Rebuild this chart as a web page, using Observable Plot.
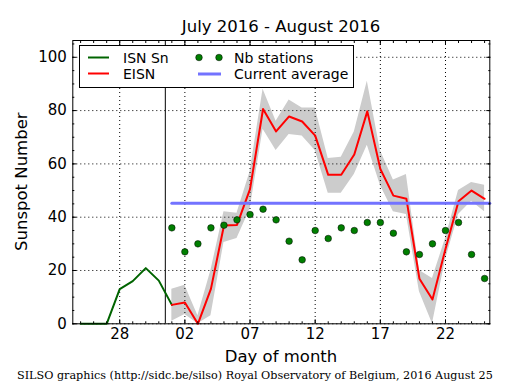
<!DOCTYPE html>
<html><head><meta charset="utf-8">
<script src="https://cdn.jsdelivr.net/npm/d3@7"></script>
<script src="https://cdn.jsdelivr.net/npm/@observablehq/plot@0.6"></script>
<style>
body{margin:0;background:#fff}
#wrap{position:relative;width:515px;height:390px}
#wrap svg{position:absolute;left:0;top:0}
</style>
</head><body><div id="wrap"></div>
<script>
// x = day number counted from July 1 (July d -> d, August d -> 31 + d)
const isnDays = [25, 26, 27, 28, 29, 30, 31, 32];
const isnValues = [0, 0, 0, 13, 16, 20.9, 16.2, 7.1];

const augDays = [1,2,3,4,5,6,7,8,9,10,11,12,13,14,15,16,17,18,19,20,21,22,23,24,25];
const eisnValues = [7.1, 8.0, 0, 13.1, 36.9, 37.1, 50.5, 80.6, 72.2, 77.8, 75.9, 70.6, 55.9, 55.9, 63.5, 79.7, 58.1, 48.1, 46.9, 16.9, 9.1, 28.1, 46.0, 50.0, 46.9];
const eisnUpper = [13, 14.5, 3, 20, 42, 41.5, 57, 88, 76, 84, 81, 81, 62, 62.5, 72, 91, 65, 54, 56, 20, 17, 32, 50, 53, 52];
const eisnLower = [1, 3.5, 0, 3, 30.5, 32, 43, 73, 65, 71, 70.5, 65, 49, 49, 56, 67, 52, 42, 41, 12, 0, 24, 41, 46, 42];
const nbStations = [36, 27, 30, 36, 37, 39, 41, 43, 39, 31, 24, 35, 32, 36, 35, 38, 38, 34, 27, 26, 30, 35, 38, 26, 17];

const currentAverage = 45.2;
const avgStartDay = 32;
const dividerDay = 31.5;

const xTickValues = [28, 33, 38, 43, 48, 53];
const xTickLabels = ["28", "02", "07", "12", "17", "22"];
const yTickValues = [0, 20, 40, 60, 80, 100];

const xDomain = [24.4, 56.4];
const yDomain = [0, 106.3];

const isnRows = isnDays.map((d, i) => ({x: d, v: isnValues[i]}));
const eisnRows = augDays.map((d, i) => ({x: 31 + d, v: eisnValues[i], hi: eisnUpper[i], lo: eisnLower[i], n: nbStations[i]}));
const avgRows = [{x: avgStartDay, v: currentAverage}, {x: xDomain[1], v: currentAverage}];
const minorX = d3.range(25, 57);
const minorY = d3.range(0, 106, 5);
const labelOf = new Map(xTickValues.map((v, i) => [v, xTickLabels[i]]));

const green = "#006400";
const blue = "#7373ff";

const chart = Plot.plot({
  width: 515, height: 390,
  marginLeft: 72.3, marginRight: 25.7, marginTop: 40, marginBottom: 66.7,
  style: {fontFamily: "DejaVu Sans", fontSize: "15px", color: "black", background: "white", overflow: "visible"},
  x: {domain: xDomain},
  y: {domain: yDomain},
  marks: [
    Plot.areaY(eisnRows, {x: "x", y1: "lo", y2: "hi", fill: "#cccccc"}),
    Plot.gridX(xTickValues, {stroke: "black", strokeOpacity: 1, strokeWidth: 1, strokeDasharray: "1,3"}),
    Plot.gridY(yTickValues, {stroke: "black", strokeOpacity: 1, strokeWidth: 1, strokeDasharray: "1,3"}),
    Plot.ruleX([dividerDay], {stroke: "black", strokeWidth: 1}),
    Plot.lineY(isnRows, {x: "x", y: "v", stroke: green, strokeWidth: 2}),
    Plot.lineY(eisnRows, {x: "x", y: "v", stroke: "red", strokeWidth: 2}),
    Plot.lineY(avgRows, {x: "x", y: "v", stroke: blue, strokeWidth: 3}),
    Plot.dot(eisnRows, {x: "x", y: "n", r: 3.3, fill: "#007f00", stroke: "black", strokeWidth: 0.5}),
    Plot.frame({stroke: "black", strokeWidth: 1}),
    // tick labels
    Plot.axisX(xTickValues, {anchor: "bottom", tickSize: 0, tickPadding: 5, fontSize: 15, tickFormat: d => labelOf.get(d), label: null}),
    Plot.axisY(yTickValues, {anchor: "left", tickSize: 0, tickPadding: 6, fontSize: 15, label: null}),
    // inward ticks
    Plot.axisX(xTickValues, {anchor: "bottom", tickSize: -4, tickFormat: () => "", label: null}),
    Plot.axisX(xTickValues, {anchor: "top", tickSize: -4, tickFormat: () => "", label: null}),
    Plot.axisX(minorX, {anchor: "bottom", tickSize: -2, tickFormat: () => "", label: null}),
    Plot.axisX(minorX, {anchor: "top", tickSize: -2, tickFormat: () => "", label: null}),
    Plot.axisY(yTickValues, {anchor: "left", tickSize: -4, tickFormat: () => "", label: null}),
    Plot.axisY(yTickValues, {anchor: "right", tickSize: -4, tickFormat: () => "", label: null}),
    Plot.axisY(minorY, {anchor: "left", tickSize: -2, tickFormat: () => "", label: null}),
    Plot.axisY(minorY, {anchor: "right", tickSize: -2, tickFormat: () => "", label: null})
  ]
});
const wrap = document.getElementById("wrap");
wrap.appendChild(chart);

// overlay: title, axis labels, legend, footer
const ov = d3.select(wrap).append("svg").attr("width", 515).attr("height", 390)
  .style("pointer-events", "none").attr("font-family", "DejaVu Sans");
ov.append("text").attr("x", 281).attr("y", 32).attr("font-size", 16.5).attr("text-anchor", "middle").text("July 2016 - August 2016");
ov.append("text").attr("x", 281).attr("y", 362).attr("font-size", 16.5).attr("text-anchor", "middle").text("Day of month");
ov.append("text").attr("transform", "translate(27,181.7) rotate(-90)").attr("font-size", 16.5).attr("text-anchor", "middle").text("Sunspot Number");
const lg = ov.append("g").attr("font-size", 14);
lg.append("rect").attr("x", 79.5).attr("y", 45.5).attr("width", 274).attr("height", 42).attr("fill", "white").attr("stroke", "black");
lg.append("line").attr("x1", 88).attr("x2", 109).attr("y1", 57.5).attr("y2", 57.5).attr("stroke", green).attr("stroke-width", 2);
lg.append("line").attr("x1", 88).attr("x2", 109).attr("y1", 73.5).attr("y2", 73.5).attr("stroke", "red").attr("stroke-width", 2);
lg.append("circle").attr("cx", 199).attr("cy", 57.5).attr("r", 3.3).attr("fill", "#007f00").attr("stroke", "black").attr("stroke-width", 0.5);
lg.append("circle").attr("cx", 219).attr("cy", 57.5).attr("r", 3.3).attr("fill", "#007f00").attr("stroke", "black").attr("stroke-width", 0.5);
lg.append("line").attr("x1", 198).attr("x2", 221).attr("y1", 74).attr("y2", 74).attr("stroke", blue).attr("stroke-width", 3);
lg.append("text").attr("x", 123).attr("y", 62.8).text("ISN Sn");
lg.append("text").attr("x", 123).attr("y", 78.6).text("EISN");
lg.append("text").attr("x", 234).attr("y", 62.8).text("Nb stations");
lg.append("text").attr("x", 234).attr("y", 78.6).text("Current average");
ov.append("text").attr("x", 17).attr("y", 379).attr("font-family", "DejaVu Serif").attr("font-size", 11.2)
  .text("SILSO graphics (http://sidc.be/silso) Royal Observatory of Belgium, 2016 August 25");
</script>
</body></html>
